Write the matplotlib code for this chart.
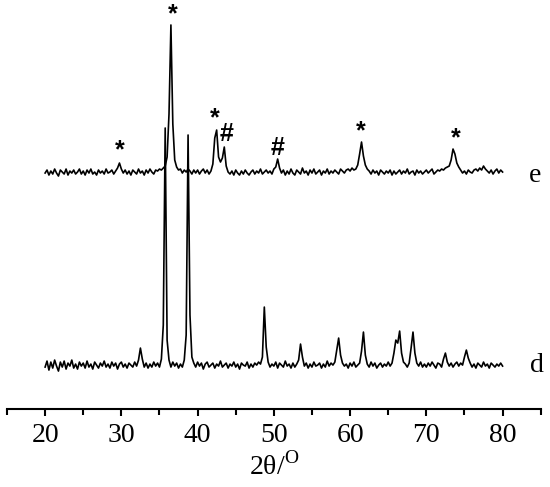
import numpy as np
import matplotlib
matplotlib.use("Agg")
import matplotlib.pyplot as plt
from matplotlib.ticker import MultipleLocator

plt.rcParams['font.family'] = ['Liberation Serif', 'DejaVu Serif']
plt.rcParams['mathtext.fontset'] = 'custom'
plt.rcParams['mathtext.rm'] = 'Liberation Serif'

# 2theta grid of the scans (deg), 0.25 deg step from 20 to 80
two_theta = np.linspace(20, 80, 241)

# sample d intensity (a.u.)
d_counts = [
    -2, 4, -5, 3, -3, 5, -1, -6, 3, -2, 4, -4, 2, -1, 5, -3, 1, -4, 3, -1,
    2, -3, 4, -2, 1, -4, 3, 0, -3, 2, -1, 4, -2, 1, -3, 3, -1, 2, -4, 1,
    3, -2, 1, -3, 2, 0, -2, 3, -1, 5, 17, 6, -2, 2, -3, 1, -2, 3, -1, 2,
    -2, 6, 40, 237, 25, 5, -2, 3, -1, 2, -3, 1, -2, 5, 30, 230, 50, 8, 2, -2,
    3, -1, 2, -4, 1, 3, -2, 0, 2, -3, 1, -1, 4, -2, 0, 2, -3, 1, -1, 3,
    -2, 1, -4, 2, 0, -1, 3, -3, 1, -2, 2, 0, 3, 1, 8, 58, 18, 3, -2, 1,
    -1, 3, -3, 2, 0, -2, 4, -1, 1, -3, 2, -2, 1, 5, 21, 8, -1, 2, -3, 1,
    -2, 3, -1, 0, 2, -3, 1, -2, 4, -1, 2, 0, 3, 15, 27, 10, 2, -1, 1, -3,
    2, -1, 3, -2, 0, 2, 14, 33, 10, 1, -2, 3, -1, 2, -3, 0, 2, -2, 1, -1,
    3, -1, 2, 12, 25, 22, 34, 12, 3, 1, -2, 2, 17, 33, 12, 2, -1, 3, -2, 1,
    -2, 2, -1, 3, 0, -3, 2, 1, -2, 6, 12, 3, -1, 2, -2, 1, 3, -1, 2, 0,
    8, 15, 7, 2, -2, 1, -3, 2, 0, -2, 3, -1, 1, -3, 2, 0, -2, 1, -1, 2,
    -1,
]

# sample e intensity (a.u.)
e_counts = [
    -1, 2, -3, 1, -2, 3, -1, -4, 2, 0, -2, 3, -3, 1, -1, 2, -2, 0, 3, -2,
    1, -3, 2, -1, 3, -2, 0, -3, 2, -1, 1, -2, 3, -1, 0, 2, -2, 1, 4, 9,
    3, -1, 2, -2, 1, -3, 2, 0, -2, 3, -1, 1, -3, 2, -1, 3, 0, -2, 2, 1,
    3, 2, 4, 6, 15, 58, 147, 48, 12, 5, 2, 3, -1, 2, 0, 3, 1, -2, 2, -1,
    2, -2, 1, 3, -1, 2, -2, 1, 8, 34, 42, 15, 10, 14, 25, 6, 0, -2, 1, -3,
    2, -1, -3, 1, -2, 2, -1, -3, 0, 2, -2, 1, -1, 3, -2, 0, 2, -1, 1, -2,
    3, 5, 13, 4, -1, 2, -3, 1, -2, 3, -1, -3, 2, 0, -2, 4, -1, 1, -3, 2,
    -1, 3, -2, 0, 2, -3, 1, -1, 3, -2, 1, -1, 2, 0, -2, 3, 1, -1, 2, 3,
    1, 4, 2, 3, 7, 18, 30, 16, 7, 3, 1, -2, 2, -1, 1, -3, 2, 0, -2, 1,
    -1, 2, -3, 1, -2, 0, 2, -2, 1, -1, 3, -2, 0, 1, -3, 2, -1, 1, -2, 0,
    2, -1, 1, 3, -2, 0, 2, 1, 3, 2, 4, 5, 6, 12, 23, 18, 9, 5, 2, -1,
    1, -2, 2, 0, -1, 2, 3, 1, 4, 2, 6, 3, 1, -1, 2, -2, 1, 3, -1, 2,
    0,
]
e_offset = 193

# peak markers on trace e: (2theta, height above e baseline, symbol)
mark_pos = [29.8, 36.7, 42.2, 43.8, 50.5, 61.45, 73.85]
mark_height = [22, 158, 54, 38, 24, 41, 34]
mark_sym = ['*', '*', '*', '#', '#', '*', '*']

fig = plt.figure(figsize=(5.5, 4.87), dpi=100)
ax = fig.add_axes([0.0127, 0.160, 0.9704, 0.840])

ax.plot(two_theta, d_counts, color='black', lw=1.2)
ax.plot(two_theta, np.array(e_counts) + e_offset, color='black', lw=1.2)

for x, h, s in zip(mark_pos, mark_height, mark_sym):
    ax.text(x, h + e_offset, s, ha='center', va='center', fontsize=18,
            fontweight='bold', family='Liberation Sans', clip_on=False)

ax.text(84.2, e_offset - 3, 'e', ha='center', va='center', fontsize=20)
ax.text(84.5, 0, 'd', ha='center', va='center', fontsize=20)

ax.set_xlim(15, 85)
ax.set_ylim(-44, 365)
ax.xaxis.set_major_locator(MultipleLocator(10))
ax.xaxis.set_minor_locator(MultipleLocator(5))
ax.set_xticks([20, 30, 40, 50, 60, 70, 80])
ax.set_yticks([])
for side in ['top', 'right', 'left']:
    ax.spines[side].set_visible(False)
ax.spines['bottom'].set_linewidth(1.5)
ax.tick_params(axis='x', which='major', length=5, width=1.5, labelsize=20, pad=5)
ax.tick_params(axis='x', which='minor', length=4, width=1.5)
ax.set_xlabel('2θ/$^{\\mathrm{O}}$', fontsize=20, labelpad=3)

plt.savefig('out.png', dpi=100)
